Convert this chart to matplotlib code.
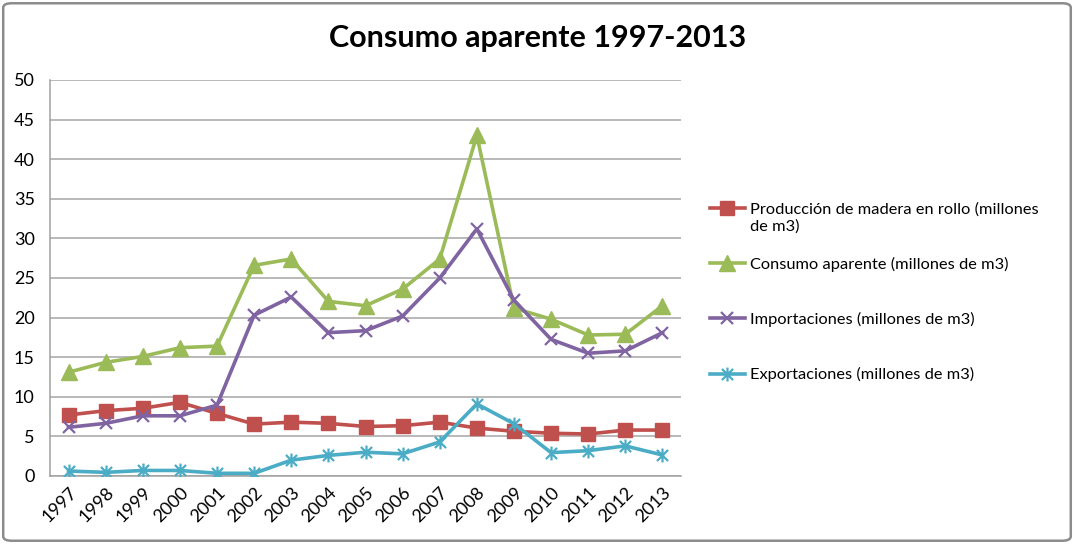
import matplotlib
matplotlib.use("Agg")
import matplotlib.pyplot as plt
from matplotlib.path import Path
from matplotlib.patches import FancyBboxPatch

plt.rcParams['font.family'] = ['Lato', 'DejaVu Sans']

years = ['1997', '1998', '1999', '2000', '2001', '2002', '2003', '2004', '2005',
         '2006', '2007', '2008', '2009', '2010', '2011', '2012', '2013']
produccion = [7.7, 8.25, 8.55, 9.3, 7.9, 6.55, 6.8, 6.65, 6.25,
              6.35, 6.8, 6.05, 5.65, 5.4, 5.3, 5.8, 5.8]
consumo = [13.1, 14.35, 15.1, 16.2, 16.4, 26.6, 27.4, 22.05, 21.5,
           23.6, 27.4, 43.0, 21.2, 19.8, 17.8, 17.9, 21.5]
importaciones = [6.15, 6.65, 7.6, 7.6, 8.95, 20.3, 22.6, 18.1, 18.35,
                 20.2, 25.0, 31.2, 22.2, 17.25, 15.5, 15.8, 18.1]
exportaciones = [0.63, 0.46, 0.7, 0.7, 0.34, 0.34, 2.0, 2.6, 3.0,
                 2.8, 4.3, 9.1, 6.6, 2.95, 3.2, 3.8, 2.65]

labels = ['Producción de madera en rollo (millones',
          'Consumo aparente (millones de m3)',
          'Importaciones (millones de m3)',
          'Exportaciones (millones de m3)']
label0_cont = 'de m3)'
title = 'Consumo aparente 1997-2013'
yticks = [0, 5, 10, 15, 20, 25, 30, 35, 40, 45, 50]

c_red = '#C0504D'
c_green = '#9BBB59'
c_purple = '#8064A2'
c_cyan = '#4BACC6'

asterisk = Path([(0, -1), (0, 1), (-0.8, -0.8), (0.8, 0.8), (-0.8, 0.8), (0.8, -0.8)],
                [Path.MOVETO, Path.LINETO, Path.MOVETO, Path.LINETO, Path.MOVETO, Path.LINETO])

fig = plt.figure(figsize=(10.74, 5.44), dpi=100)
fig.patches.append(FancyBboxPatch((0.003, 0.006), 0.994, 0.988,
                                  boxstyle='round,pad=0,rounding_size=0.008',
                                  transform=fig.transFigure, facecolor='none',
                                  edgecolor='#8C8C8C', linewidth=1.8))
ax = fig.add_axes([50 / 1074, 68 / 544, 631 / 1074, 396 / 544])

x = list(range(len(years)))
lw = 2.6
ax.plot(x, produccion, color=c_red, lw=lw, marker='s', markersize=10.5,
        markeredgecolor=c_red, label=labels[0], zorder=3)
ax.plot(x, consumo, color=c_green, lw=lw, marker='^', markersize=11.5,
        markeredgecolor=c_green, label=labels[1], zorder=3)
ax.plot(x, importaciones, color=c_purple, lw=lw, marker='x', markersize=9,
        markeredgewidth=1.6, label=labels[2], zorder=3)
ax.plot(x, exportaciones, color=c_cyan, lw=lw, marker=asterisk, markersize=10,
        markeredgewidth=1.6, markeredgecolor=c_cyan, label=labels[3], zorder=3)

ax.set_xlim(-0.5, len(years) - 0.5)
ax.set_ylim(0, 50)
ax.set_yticks(yticks)
ax.set_xticks(x)
ax.set_xticklabels(years, rotation=45, ha='right', rotation_mode='anchor')
ax.tick_params(axis='both', length=0, labelsize=13, colors='#000000')
ax.tick_params(axis='y', pad=11)
ax.tick_params(axis='x', pad=6)
ax.grid(axis='y', color='#A6A6A6', linewidth=1.1)
ax.set_axisbelow(True)
for s in ['top', 'right']:
    ax.spines[s].set_visible(False)
for s in ['left', 'bottom']:
    ax.spines[s].set_color('#A0A0A0')
    ax.spines[s].set_linewidth(1.1)

fig.text(538 / 1074, 1 - 38 / 544, title, ha='center', va='center',
         fontsize=22, fontweight='bold')

leg_fs = 11.8
leg = fig.legend(loc='upper left', bbox_to_anchor=(702 / 1074, 1 - 194 / 544),
                 frameon=False, fontsize=leg_fs, handlelength=2.1, handletextpad=0.3,
                 labelspacing=2.45, borderpad=0)

fig.canvas.draw()
t0 = leg.get_texts()[0]
bb = t0.get_window_extent()
inv = fig.transFigure.inverted()
x0, y0 = inv.transform((bb.x0, bb.y0))
fig.text(x0, y0 - 3 / 544, label0_cont, ha='left', va='top', fontsize=leg_fs)

fig.savefig('out.png', dpi=100)
